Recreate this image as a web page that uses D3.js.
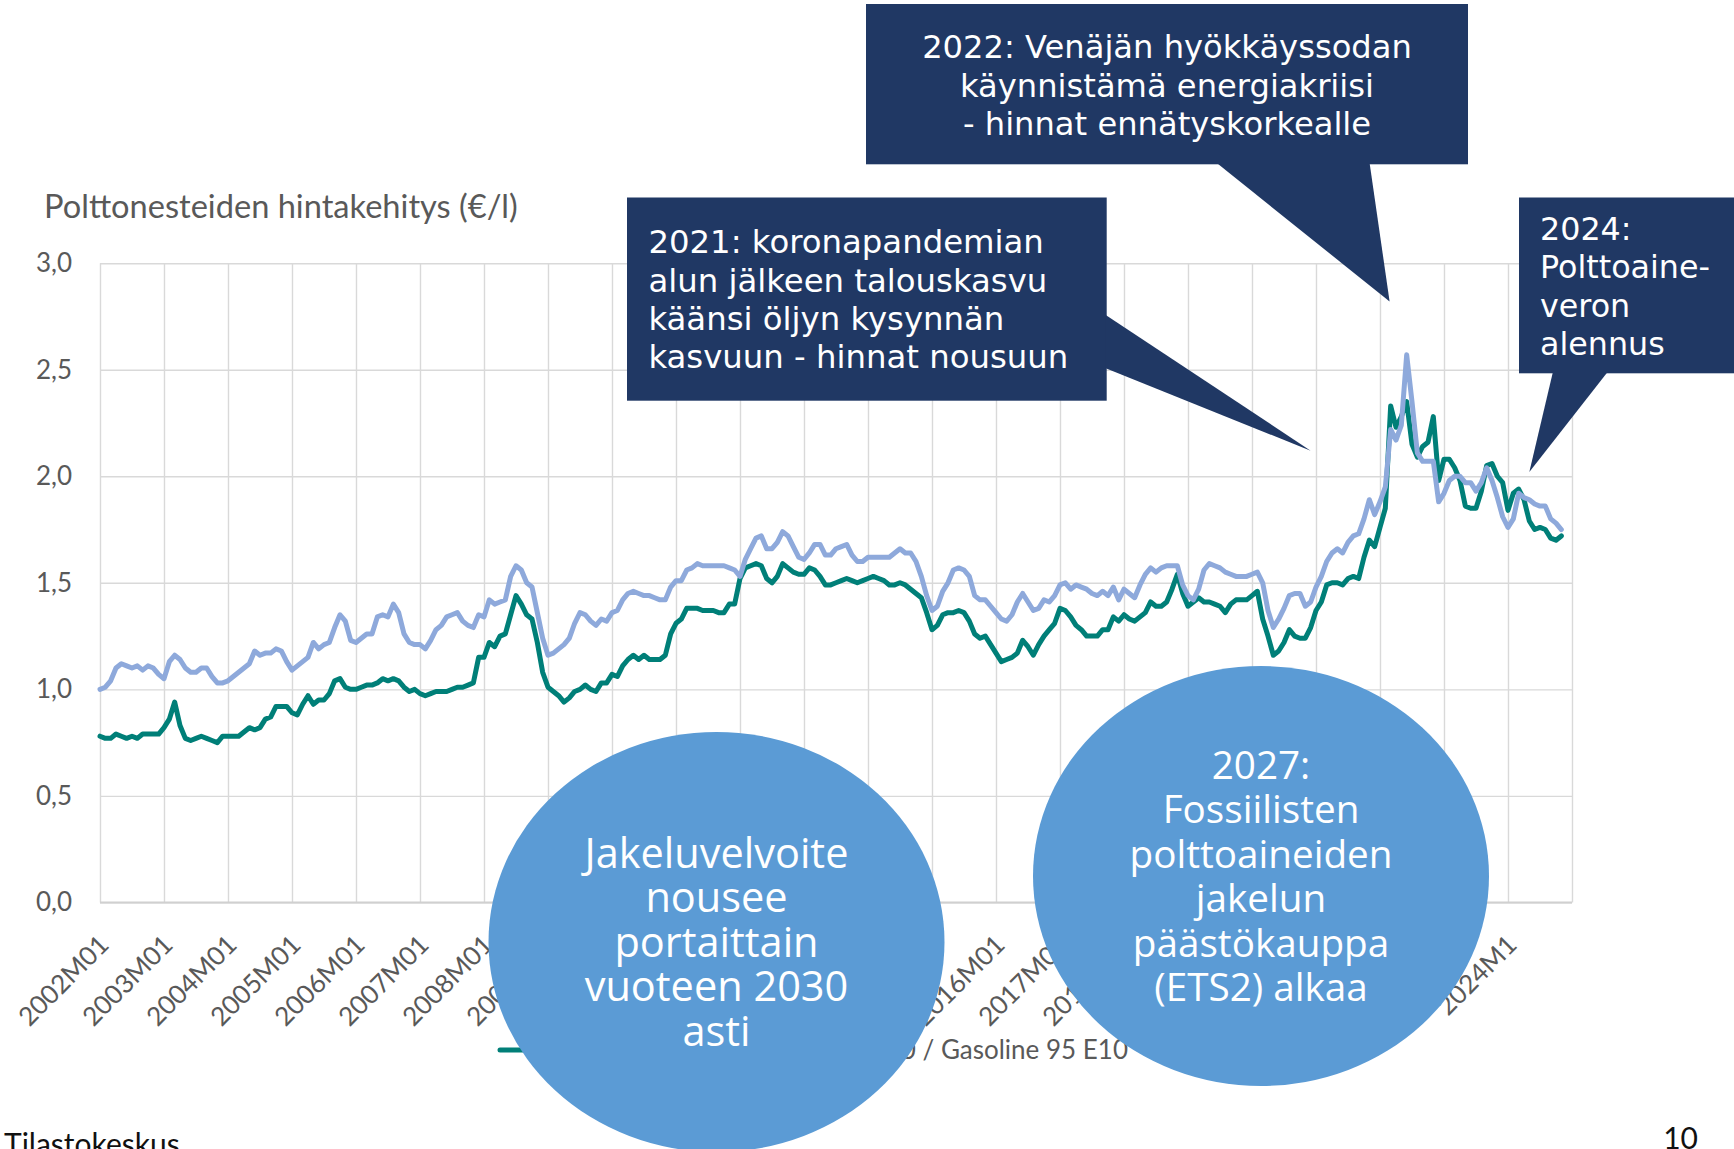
<!DOCTYPE html>
<html><head><meta charset="utf-8">
<script src="https://cdn.jsdelivr.net/npm/d3@7"></script>
<style>html,body{margin:0;padding:0;background:#fff;overflow:hidden}</style>
</head><body>
<svg id="c" width="1734" height="1149"></svg>
<script>
// ---------- DATA ----------
const firstYear = 2002;
const lastYear = 2024;
const lastMonthOfLastYear = 11;

// Diesel (€/l), monthly 2002M01 ... 2024M11
const diesel = [
  0.78,0.77,0.77,0.79,0.78,0.77,0.78,0.77,0.79,0.79,0.79,0.79,
  0.82,0.86,0.94,0.83,0.77,0.76,0.77,0.78,0.77,0.76,0.75,0.78,
  0.78,0.78,0.78,0.80,0.82,0.81,0.82,0.86,0.87,0.92,0.92,0.92,
  0.89,0.88,0.93,0.97,0.93,0.95,0.95,0.98,1.04,1.05,1.01,1.00,
  1.00,1.01,1.02,1.02,1.03,1.05,1.04,1.05,1.04,1.01,0.99,1.00,
  0.98,0.97,0.98,0.99,0.99,0.99,1.00,1.01,1.01,1.02,1.03,1.15,
  1.15,1.22,1.20,1.25,1.26,1.35,1.44,1.40,1.35,1.33,1.22,1.08,
  1.01,0.99,0.97,0.94,0.96,0.99,1.00,1.02,1.00,0.99,1.03,1.03,
  1.07,1.06,1.11,1.14,1.16,1.14,1.16,1.14,1.14,1.14,1.16,1.26,
  1.31,1.33,1.38,1.38,1.38,1.37,1.37,1.37,1.36,1.36,1.40,1.40,
  1.52,1.57,1.58,1.59,1.58,1.52,1.50,1.53,1.59,1.57,1.55,1.54,
  1.54,1.57,1.56,1.53,1.49,1.49,1.50,1.51,1.52,1.51,1.50,1.51,
  1.52,1.53,1.52,1.51,1.49,1.49,1.50,1.49,1.47,1.45,1.43,1.36,
  1.28,1.30,1.35,1.36,1.36,1.37,1.36,1.32,1.26,1.24,1.25,1.21,
  1.17,1.13,1.14,1.15,1.17,1.23,1.20,1.16,1.21,1.25,1.28,1.31,
  1.38,1.37,1.34,1.30,1.28,1.25,1.25,1.25,1.28,1.28,1.34,1.32,
  1.35,1.33,1.32,1.34,1.36,1.41,1.39,1.39,1.41,1.47,1.54,1.45,
  1.39,1.41,1.43,1.41,1.41,1.40,1.39,1.36,1.40,1.42,1.42,1.42,
  1.44,1.46,1.33,1.25,1.16,1.18,1.22,1.28,1.25,1.24,1.24,1.29,
  1.37,1.41,1.49,1.50,1.50,1.49,1.52,1.53,1.52,1.62,1.70,1.67,
  1.76,1.85,2.33,2.23,2.28,2.35,2.15,2.09,2.14,2.16,2.28,1.98,
  2.08,2.08,2.04,1.98,1.86,1.85,1.85,1.93,2.05,2.06,2.00,1.97,
  1.84,1.92,1.94,1.89,1.79,1.75,1.76,1.75,1.71,1.70,1.72
];

// Gasoline 95 E10 (€/l), monthly 2002M01 ... 2024M11
const gasoline = [
  1.00,1.01,1.04,1.10,1.12,1.11,1.10,1.11,1.09,1.11,1.10,1.07,
  1.05,1.13,1.16,1.14,1.10,1.08,1.08,1.10,1.10,1.06,1.03,1.03,
  1.04,1.06,1.08,1.10,1.12,1.18,1.16,1.17,1.17,1.19,1.18,1.13,
  1.09,1.11,1.13,1.15,1.22,1.19,1.21,1.22,1.29,1.35,1.32,1.23,
  1.22,1.24,1.26,1.26,1.34,1.35,1.34,1.40,1.36,1.26,1.22,1.21,
  1.21,1.19,1.23,1.28,1.30,1.34,1.35,1.36,1.32,1.30,1.29,1.35,
  1.34,1.42,1.40,1.41,1.42,1.53,1.58,1.56,1.50,1.48,1.36,1.24,
  1.16,1.17,1.19,1.21,1.24,1.31,1.36,1.35,1.32,1.30,1.33,1.32,
  1.36,1.37,1.42,1.45,1.46,1.45,1.44,1.44,1.43,1.42,1.42,1.48,
  1.51,1.51,1.56,1.57,1.59,1.58,1.58,1.58,1.58,1.58,1.57,1.56,
  1.53,1.61,1.66,1.71,1.72,1.66,1.66,1.69,1.74,1.72,1.67,1.62,
  1.61,1.64,1.68,1.68,1.63,1.63,1.66,1.67,1.68,1.63,1.60,1.60,
  1.62,1.62,1.62,1.62,1.62,1.64,1.66,1.64,1.64,1.60,1.53,1.44,
  1.37,1.39,1.46,1.50,1.56,1.57,1.56,1.53,1.44,1.42,1.42,1.39,
  1.36,1.33,1.32,1.35,1.41,1.45,1.41,1.37,1.38,1.42,1.41,1.44,
  1.49,1.50,1.47,1.49,1.48,1.47,1.45,1.44,1.46,1.44,1.48,1.42,
  1.47,1.45,1.43,1.49,1.54,1.57,1.55,1.57,1.58,1.58,1.58,1.49,
  1.44,1.42,1.47,1.56,1.59,1.58,1.57,1.55,1.54,1.53,1.53,1.53,
  1.54,1.55,1.50,1.37,1.29,1.33,1.38,1.44,1.45,1.45,1.39,1.41,
  1.48,1.53,1.60,1.64,1.66,1.64,1.69,1.72,1.73,1.80,1.89,1.82,
  1.88,1.95,2.22,2.17,2.24,2.57,2.35,2.11,2.07,2.07,2.07,1.88,
  1.92,1.98,2.00,2.00,1.97,1.97,1.93,1.97,2.04,1.98,1.90,1.81,
  1.76,1.80,1.92,1.90,1.89,1.87,1.86,1.86,1.80,1.78,1.75
];

const seriesNames = ["Dieselöljy / Diesel", "Moottoribensiini 95 E10 / Gasoline 95 E10"];
const xTickLabels = ["2002M01","2003M01","2004M01","2005M01","2006M01","2007M01","2008M01",
  "2009M01","2010M01","2011M01","2012M01","2013M01","2014M01","2015M01","2016M01","2017M01",
  "2018M01","2019M01","2020M01","2021M01","2022M01","2023M01","2024M1"];
const yTicks = [0, 0.5, 1.0, 1.5, 2.0, 2.5, 3.0];

const titleText = "Polttonesteiden hintakehitys (€/l)";
const callout2022 = ["2022: Venäjän hyökkäyssodan", "käynnistämä energiakriisi", "- hinnat ennätyskorkealle"];
const callout2021 = ["2021: koronapandemian", "alun jälkeen talouskasvu", "käänsi öljyn kysynnän", "kasvuun - hinnat nousuun"];
const callout2024 = ["2024:", "Polttoaine-", "veron", "alennus"];
const circleJakelu = ["Jakeluvelvoite", "nousee", "portaittain", "vuoteen 2030", "asti"];
const circleETS = ["2027:", "Fossiilisten", "polttoaineiden", "jakelun", "päästökauppa", "(ETS2) alkaa"];
// pointer tips in data coordinates [month index, €/l]
const tip2022 = [241.8, 2.82];
const tip2021 = [227.0, 2.12];
const tip2024 = [268.0, 2.02];

// categories (month labels)
const categories = [];
for (let yr = firstYear; yr <= lastYear; yr++) {
  const mMax = yr === lastYear ? lastMonthOfLastYear : 12;
  for (let m = 1; m <= mMax; m++) categories.push(yr + "M" + String(m).padStart(2, "0"));
}

// ---------- DRAW ----------
const W = 1734, H = 1149;
const svg = d3.select("#c");
svg.append("rect").attr("width", W).attr("height", H).attr("fill", "#fff");

const plotL = 100, plotR = 1572, plotT = 263.2, plotB = 902.4;
const xMax = 276;
const x = d3.scaleLinear().domain([0, xMax]).range([plotL, plotR]);
const y = d3.scaleLinear().domain([0, 3]).range([plotB, plotT]);

const CAL = "Lato, 'Open Sans', sans-serif";
const GREY = "#595959";

function fit(sel, target) {
  const w = sel.node().getComputedTextLength();
  const fs = parseFloat(sel.attr("font-size"));
  return fs * target / w;
}

// title
const title = svg.append("text").attr("x", 44).attr("y", 218)
  .attr("font-family", CAL).attr("font-size", 30).attr("fill", GREY).text(titleText);
title.attr("font-size", fit(title, 474));

// y axis + horizontal gridlines
const gy = svg.append("g").attr("transform", `translate(${plotL},0)`)
  .call(d3.axisLeft(y).tickValues(yTicks)
    .tickFormat(d => d.toFixed(1).replace(".", ","))
    .tickSize(-(plotR - plotL)).tickPadding(28));
gy.select(".domain").remove();
gy.selectAll(".tick line").attr("stroke", "#D9D9D9").attr("stroke-width", 1.4);
gy.selectAll(".tick text").attr("font-family", CAL).attr("font-size", 26).attr("fill", GREY);

// x axis + vertical gridlines
const xTickVals = d3.range(0, xMax + 1, 12);
const gx = svg.append("g").attr("transform", `translate(0,${plotB})`)
  .call(d3.axisBottom(x).tickValues(xTickVals)
    .tickFormat((d, i) => xTickLabels[i] || "")
    .tickSize(-(plotB - plotT)));
gx.select(".domain").remove();
gx.selectAll(".tick line").attr("stroke", "#D9D9D9").attr("stroke-width", 1.4);
gx.selectAll(".tick text")
  .attr("x", 0).attr("y", 0).attr("dy", null)
  .attr("transform", "translate(10,44) rotate(-45)")
  .attr("text-anchor", "end")
  .attr("font-family", CAL).attr("font-size", 26).attr("fill", GREY);

// bottom axis line
svg.append("line").attr("x1", plotL).attr("x2", plotR).attr("y1", y(0)).attr("y2", y(0))
  .attr("stroke", "#D0D0D0").attr("stroke-width", 2);

// lines
const colors = ["#007F78", "#8EA9DB"];
const line = d3.line().x((d, i) => x(i)).y(d => y(d));
[diesel, gasoline].forEach((s, k) => {
  svg.append("path").datum(s).attr("d", line)
    .attr("fill", "none").attr("stroke", colors[k]).attr("stroke-width", 5)
    .attr("stroke-linejoin", "round").attr("stroke-linecap", "round");
});

// legend
const legY = 1050;
svg.append("line").attr("x1", 500).attr("x2", 529).attr("y1", legY).attr("y2", legY)
  .attr("stroke", colors[0]).attr("stroke-width", 5).attr("stroke-linecap", "round");
svg.append("text").attr("x", 537).attr("y", legY + 9).attr("font-family", CAL)
  .attr("font-size", 26).attr("fill", GREY).text(seriesNames[0]);
const leg2 = svg.append("text").attr("x", 1128).attr("y", legY + 9).attr("text-anchor", "end")
  .attr("font-family", CAL).attr("font-size", 26).attr("fill", GREY).text(seriesNames[1]);
const l2w = leg2.node().getComputedTextLength();
svg.append("line").attr("x1", 1128 - l2w - 37).attr("x2", 1128 - l2w - 8).attr("y1", legY).attr("y2", legY)
  .attr("stroke", colors[1]).attr("stroke-width", 5).attr("stroke-linecap", "round");

// callouts
const NAVY = "#203864";
const VER = "'DejaVu Sans', Verdana, sans-serif";
function callout(box, base, tip, lines, textX, baseY, anchor, refIdx, refW) {
  const [bx0, by0, bx1, by1] = box;
  svg.append("rect").attr("x", bx0).attr("y", by0).attr("width", bx1 - bx0).attr("height", by1 - by0).attr("fill", NAVY);
  const tx = x(tip[0]), ty = y(tip[1]);
  svg.append("path").attr("d", `M${base[0][0]},${base[0][1]}L${tx},${ty}L${base[1][0]},${base[1][1]}Z`).attr("fill", NAVY);
  const t = svg.append("g");
  const texts = lines.map((s, i) => t.append("text").attr("x", textX).attr("y", baseY + i * 38.3)
    .attr("text-anchor", anchor).attr("font-family", VER).attr("font-size", 32).attr("fill", "#fff").text(s));
  const fs = fit(texts[refIdx], refW);
  texts.forEach(s => s.attr("font-size", fs));
}
callout([866, 4, 1468, 164.3], [[1216.8, 163], [1369.6, 163]], tip2022, callout2022, 1167, 58.3, "middle", 0, 490);
callout([627, 197.5, 1106.7, 400.7], [[1105.7, 315], [1105.7, 368.3]], tip2021, callout2021, 648.4, 253.3, "start", 3, 420);
callout([1519, 197.5, 1734, 373.3], [[1552.9, 372], [1607.6, 372]], tip2024, callout2024, 1540, 240, "start", 1, 170);

// circles
const BLUE = "#5B9BD5";
const OPN = "'Open Sans', sans-serif";
function bubble(cx, cy, lines, refIdx, refW) {
  svg.append("ellipse").attr("cx", cx).attr("cy", cy).attr("rx", 228).attr("ry", 210).attr("fill", BLUE);
  const n = lines.length, lh = 44.5;
  const texts = lines.map((s, i) => svg.append("text").attr("x", cx)
    .attr("y", cy + (i - (n - 1) / 2) * lh).attr("dy", "0.36em")
    .attr("text-anchor", "middle").attr("font-family", OPN).attr("font-size", 36)
    .attr("fill", "#fff").text(s));
  const fs = fit(texts[refIdx], refW);
  texts.forEach(s => s.attr("font-size", fs));
}
bubble(716.5, 942, circleJakelu, 0, 264);
bubble(1261, 876, circleETS, 2, 263);

// footer
svg.append("text").attr("x", 4).attr("y", 1155).attr("font-family", CAL).attr("font-size", 30)
  .attr("fill", "#111").text("Tilastokeskus");
svg.append("text").attr("x", 1698).attr("y", 1149).attr("text-anchor", "end").attr("font-family", CAL)
  .attr("font-size", 30).attr("fill", "#111").text("10");
</script>
</body></html>
